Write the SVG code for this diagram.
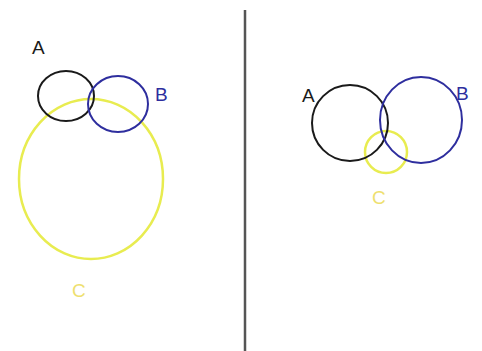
<svg xmlns="http://www.w3.org/2000/svg" width="482" height="351" viewBox="0 0 482 351">
<style>
.a{fill:none;stroke:#1a1a1a;stroke-width:2}
.b{fill:none;stroke:#2e2e9e;stroke-width:2}
.c{fill:none;stroke:#e8ec50;stroke-width:2.5}
text{font-family:"Liberation Sans",Arial,sans-serif;font-size:19px}
.ta{fill:#1a1a1a}.tb{fill:#2e2e9e}.tc{fill:#eee070}
</style>
<rect width="482" height="351" fill="#fff"/>
<g id="divider"><line x1="245" y1="10" x2="245" y2="351" stroke="#555" stroke-width="2.5"/></g>
<g id="left">
<g id="left-C"><ellipse class="c" cx="91" cy="179" rx="72" ry="80"/><text class="tc" x="72" y="297">C</text></g>
<g id="left-A"><ellipse class="a" cx="66" cy="96" rx="28" ry="25"/><text class="ta" x="32" y="54">A</text></g>
<g id="left-B"><ellipse class="b" cx="118" cy="104" rx="30" ry="28"/><text class="tb" x="155" y="101">B</text></g>
</g>
<g id="right">
<g id="right-C"><circle class="c" cx="386" cy="152" r="21"/><text class="tc" x="372" y="204">C</text></g>
<g id="right-A"><circle class="a" cx="350" cy="123" r="38"/><text class="ta" x="302" y="102">A</text></g>
<g id="right-B"><ellipse class="b" cx="421" cy="120" rx="41" ry="43"/><text class="tb" x="456" y="100">B</text></g>
</g>
</svg>
